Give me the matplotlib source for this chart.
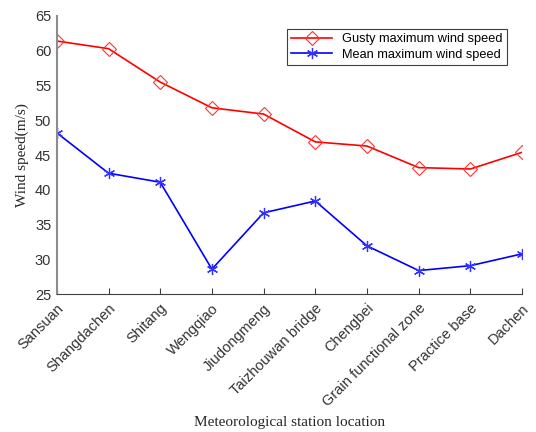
import matplotlib.pyplot as plt

# station names and wind speeds
stations = ['Sansuan', 'Shangdachen', 'Shitang', 'Wengqiao', 'Jiudongmeng',
            'Taizhouwan bridge', 'Chengbei', 'Grain functional zone',
            'Practice base', 'Dachen']
gusty = [61.4, 60.3, 55.5, 51.8, 50.9, 46.9, 46.3, 43.2, 43.0, 45.4]
mean_max = [48.2, 42.4, 41.1, 28.6, 36.7, 38.4, 31.95, 28.4, 29.1, 30.8]

fig = plt.figure(figsize=(5.36, 4.32), dpi=100)
ax = fig.add_axes([0.106, 0.319, 0.868, 0.644])

x = range(len(stations))
ax.plot(x, gusty, color='#ff0000', lw=1.2, marker='D', markersize=7,
        markerfacecolor='none', markeredgecolor='#ff3333', markeredgewidth=0.8,
        label='Gusty maximum wind speed')
ax.plot(x, mean_max, color='#0000ff', lw=1.2, marker=(6, 2, 0), markersize=8,
        markeredgecolor='#3333ff', markeredgewidth=0.9,
        label='Mean maximum wind speed')

ax.set_xlim(0, len(stations) - 1)
ax.set_ylim(25, 65)
ax.set_yticks(range(25, 66, 5))
ax.set_xticks(list(x))
ax.set_xticklabels(stations, rotation=45, ha='right', rotation_mode='anchor',
                   fontfamily='Liberation Sans', fontsize=10.5, color='#333333')
for lab in ax.get_yticklabels():
    lab.set_fontfamily('Liberation Sans')
    lab.set_fontsize(10.5)
    lab.set_color('#333333')

ax.spines['top'].set_visible(False)
ax.spines['right'].set_visible(False)
ax.spines['left'].set_color('#8c8c8c')
ax.spines['left'].set_linewidth(1.5)
ax.spines['bottom'].set_color('#404040')
ax.tick_params(direction='in', length=4, color='#404040')
ax.tick_params(axis='y', length=0, pad=4)
ax.tick_params(axis='x', pad=5)

ax.set_ylabel('Wind speed(m/s)', fontfamily='Liberation Serif', fontsize=11, color='#262626')
fig.text(0.54, 0.022, 'Meteorological station location', ha='center', va='center',
         fontfamily='Liberation Serif', fontsize=11, color='#262626')

leg = ax.legend(loc='upper right', bbox_to_anchor=(0.968, 0.955), borderaxespad=0,
                prop={'family': 'Liberation Sans', 'size': 9.2},
                fancybox=False, framealpha=1, edgecolor='#404040',
                handlelength=3.2, borderpad=0.35, labelspacing=0.3)
leg.get_frame().set_linewidth(0.8)

fig.savefig('out.png', dpi=100)
